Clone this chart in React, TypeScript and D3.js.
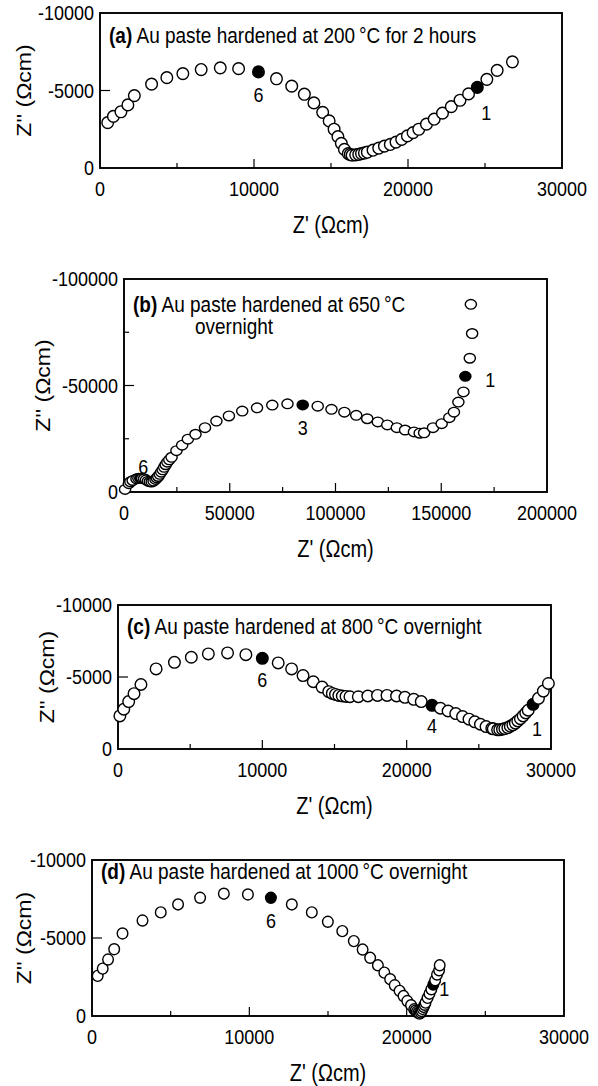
import React from "react";
import * as d3 from "d3";

const W = 598;
const H = 1086;
const FONT = "'Liberation Sans', Arial, Helvetica, sans-serif";
const STRETCH = 1.15; // the scanned figure's text is a bit taller than wide

// Nyquist data, [Z', Z''] in Ωcm (Z'' negative, plotted upwards)

// (a) 200 °C for 2 hours
const zA: [number, number][] = [
  [500, -2930], [870, -3330], [1360, -3630], [1810, -4070], [2230, -4670],
  [3350, -5410], [4340, -5830], [5380, -6090], [6570, -6350], [7810, -6460],
  [9000, -6410], [10290, -6200], [11460, -5760], [12450, -5280], [13270, -4760],
  [13890, -4200], [14460, -3590], [14880, -3040], [15200, -2500], [15450, -2020],
  [15670, -1590], [15870, -1200], [16120, -930], [16250, -870], [16370, -830],
  [16600, -850], [16800, -880], [16980, -930], [17170, -970], [17360, -1020],
  [17730, -1150], [18100, -1280], [18470, -1410], [18850, -1520], [19220, -1670],
  [19590, -1850], [19960, -2070], [20330, -2280], [20700, -2500], [21200, -2830],
  [21700, -3150], [22240, -3540], [22810, -3960], [23380, -4370], [23930, -4780],
  [24500, -5200], [25120, -5720], [25790, -6300], [26780, -6850],
];
const markA = [
  { z: [10290, -6200], label: "6" },
  { z: [24500, -5200], label: "1" },
];

// (b) 650 °C overnight
const zB: [number, number][] = [
  [500, -1200], [2300, -3900], [3000, -4800], [4100, -5400], [5900, -6200],
  [6800, -6400], [7700, -6500], [8600, -6400], [9500, -6200], [10400, -5700],
  [11300, -5100], [12200, -4800], [13100, -4700], [14000, -5100], [14900, -5900],
  [15500, -6600], [16200, -7300], [16900, -8300], [17600, -9300], [18300, -10400],
  [19000, -11600], [19700, -12800], [20500, -14000], [21400, -15100], [22500, -16300],
  [24800, -19400], [27500, -22000], [30200, -24800], [33800, -27100], [38300, -30200],
  [43700, -33300], [49600, -35700], [55900, -38000], [62900, -39500], [70100, -40800],
  [77300, -41400], [84500, -40900], [91600, -40300], [98100, -38800], [104200, -37500],
  [109800, -36000], [115000, -34400], [120000, -32900], [124500, -31500], [129000, -30200],
  [132900, -29100], [137100, -28200], [139800, -27600], [141900, -27800], [146100, -30200],
  [150200, -32100], [153800, -34900], [156000, -37500], [158100, -42200], [160500, -47000],
  [161400, -54300], [163500, -62800], [164600, -74400], [164000, -88100],
];
const markB = [
  { z: [7700, -6500], label: "6" },
  { z: [84500, -40900], label: "3" },
  { z: [161400, -54300], label: "1" },
];

// (c) 800 °C overnight
const zC: [number, number][] = [
  [130, -2300], [400, -2760], [740, -3290], [1110, -3840], [1590, -4480],
  [2640, -5560], [3910, -6020], [5080, -6370], [6260, -6600], [7590, -6670],
  [8860, -6550], [10000, -6300], [11100, -5980], [12030, -5560], [12820, -5100],
  [13530, -4670], [14140, -4300], [14600, -3980], [14850, -3860], [15070, -3790],
  [15300, -3720], [15540, -3680], [15800, -3650], [16070, -3630], [16650, -3630],
  [17310, -3680], [17980, -3720], [18640, -3720], [19300, -3680], [19880, -3590],
  [20490, -3450], [21010, -3290], [21760, -3030], [22340, -2830], [22870, -2640],
  [23400, -2460], [23870, -2250], [24320, -2070], [24720, -1890], [25110, -1720],
  [25500, -1560], [25900, -1430], [26000, -1400], [26300, -1330], [26450, -1340],
  [26640, -1380], [26800, -1420], [27010, -1490], [27180, -1580], [27360, -1680],
  [27530, -1800], [27700, -1950], [27880, -2100], [28070, -2300], [28250, -2500],
  [28420, -2690], [28760, -3100], [29130, -3520], [29470, -4020], [29820, -4550],
];
const markC = [
  { z: [10000, -6300], label: "6" },
  { z: [21760, -3030], label: "4" },
  { z: [28760, -3100], label: "1" },
];

// (d) 1000 °C overnight
const zD: [number, number][] = [
  [360, -2570], [680, -3040], [1020, -3620], [1410, -4280], [1940, -5290],
  [3210, -6120], [4370, -6640], [5470, -7150], [6870, -7580], [8380, -7840],
  [9910, -7790], [11370, -7580], [12700, -7150], [13970, -6640], [14990, -6040],
  [15910, -5440], [16640, -4800], [17200, -4260], [17680, -3730], [18170, -3250],
  [18580, -2780], [18950, -2360], [19240, -1970], [19550, -1610], [19800, -1280],
  [20040, -960], [20280, -690], [20480, -430], [20560, -340], [20650, -260],
  [20740, -200], [20820, -150], [20900, -220], [20960, -320], [21020, -450],
  [21080, -580], [21140, -720], [21200, -860], [21330, -1160], [21450, -1430],
  [21570, -1710], [21690, -2010], [21810, -2290], [21930, -2660], [22060, -2930],
  [22100, -3250],
];
const markD = [
  { z: [11370, -7580], label: "6" },
  { z: [21690, -2010], label: "1" },
];

// axis ticks
const xTicks30k = [0, 10000, 20000, 30000];
const xMinor30k = [5000, 15000, 25000];
const xTicks200k = [0, 50000, 100000, 150000, 200000];
const xMinor200k = [25000, 75000, 125000, 175000];
const yTicks10k = [0, -5000, -10000];
const yTicks100k = [0, -50000, -100000];
const yMinor100k = [-25000, -75000];

const PANELS = [
  {
    points: zA, marks: markA, xTicks: xTicks30k, xMinor: xMinor30k, yTicks: yTicks10k, yMinor: [] as number[],
    tag: "(a)", title: ["Au paste hardened at 200\u2009°C for 2 hours"],
  },
  {
    points: zB, marks: markB, xTicks: xTicks200k, xMinor: xMinor200k, yTicks: yTicks100k, yMinor: yMinor100k,
    tag: "(b)", title: ["Au paste hardened at 650\u2009°C", "overnight"],
  },
  {
    points: zC, marks: markC, xTicks: xTicks30k, xMinor: xMinor30k, yTicks: yTicks10k, yMinor: [] as number[],
    tag: "(c)", title: ["Au paste hardened at 800\u2009°C overnight"],
  },
  {
    points: zD, marks: markD, xTicks: xTicks30k, xMinor: xMinor30k, yTicks: yTicks10k, yMinor: [] as number[],
    tag: "(d)", title: ["Au paste hardened at 1000\u2009°C overnight"],
  },
];

// pixel layout of each panel
const LAYOUT = [
  { left: 100, right: 562, top: 13, bottom: 168, rx: 5.8, ry: 5.9, yTitleX: 24, titleY: [43], line2X: 0,
    labelOff: [[0, 23], [9, 25]] },
  { left: 124, right: 547, top: 279, bottom: 492, rx: 5.6, ry: 4.8, yTitleX: 43, titleY: [312, 334], line2X: 195,
    labelOff: [[3, -12], [0, 23], [25, 3]] },
  { left: 118, right: 551, top: 605, bottom: 749, rx: 5.8, ry: 5.8, yTitleX: 47, titleY: [634], line2X: 0,
    labelOff: [[0, 21], [0, 20], [4, 24]] },
  { left: 92, right: 564, top: 860, bottom: 1016, rx: 5.3, ry: 5.5, yTitleX: 24, titleY: [879], line2X: 0,
    labelOff: [[0, 23], [11, 4]] },
];

// text drawn slightly taller than wide, like the scan
function T({ x, y, rotate = 0, children, ...rest }: any) {
  const s = rotate ? `scale(${STRETCH},1)` : `scale(1,${STRETCH})`;
  return (
    <text transform={`translate(${x},${y}) rotate(${rotate}) ${s}`} {...rest}>
      {children}
    </text>
  );
}

function Panel({ p, l }: { p: (typeof PANELS)[number]; l: (typeof LAYOUT)[number] }) {
  const xMax = p.xTicks[p.xTicks.length - 1];
  const yMin = p.yTicks[p.yTicks.length - 1];
  const x = d3.scaleLinear().domain([0, xMax]).range([l.left, l.right]);
  const y = d3.scaleLinear().domain([0, yMin]).range([l.bottom, l.top]);
  const isMark = (d: [number, number]) => p.marks.some(m => m.z[0] === d[0] && m.z[1] === d[1]);
  const cx = (l.left + l.right) / 2;
  const cy = (l.top + l.bottom) / 2;

  return (
    <g>
      {p.xTicks.slice(1, -1).map(t => (
        <line key={"xt" + t} x1={x(t)} x2={x(t)} y1={l.bottom} y2={l.bottom - 9} stroke="#000" strokeWidth={1.2} />
      ))}
      {p.xMinor.map(t => (
        <line key={"xm" + t} x1={x(t)} x2={x(t)} y1={l.bottom} y2={l.bottom - 5} stroke="#000" strokeWidth={1.2} />
      ))}
      {p.yTicks.slice(1, -1).map(t => (
        <line key={"yt" + t} x1={l.left} x2={l.left + 10} y1={y(t)} y2={y(t)} stroke="#000" strokeWidth={1.2} />
      ))}
      {p.yMinor.map(t => (
        <line key={"ym" + t} x1={l.left} x2={l.left + 5} y1={y(t)} y2={y(t)} stroke="#000" strokeWidth={1.2} />
      ))}
      <rect x={l.left} y={l.top} width={l.right - l.left} height={l.bottom - l.top} fill="none" stroke="#000" strokeWidth={1.9} />

      {p.points.map((d, i) => (
        <ellipse key={i} cx={x(d[0])} cy={y(d[1])} rx={l.rx} ry={l.ry}
          fill={isMark(d) ? "#000" : "#fff"} stroke="#000" strokeWidth={1.4} />
      ))}
      {p.marks.map((m, i) => (
        <T key={"lb" + i} x={x(m.z[0]) + l.labelOff[i][0]} y={y(m.z[1]) + l.labelOff[i][1]}
          fontSize={18} textAnchor="middle" dominantBaseline="central">{m.label}</T>
      ))}

      {p.xTicks.map(t => (
        <T key={"xl" + t} x={x(t)} y={l.bottom + 21} fontSize={18} textAnchor="middle" dominantBaseline="central">{t}</T>
      ))}
      {p.yTicks.map(t => (
        <T key={"yl" + t} x={l.left - 6} y={y(t)} fontSize={18} textAnchor="end" dominantBaseline="central">{t}</T>
      ))}

      <T x={l.left + 9} y={l.titleY[0]} fontSize={19}>
        <tspan fontWeight="bold">{p.tag}</tspan> {p.title[0]}
      </T>
      {p.title.length > 1 && (
        <T x={l.line2X} y={l.titleY[1]} fontSize={19}>{p.title[1]}</T>
      )}

      <T x={cx} y={l.bottom + 57} fontSize={20} textAnchor="middle" dominantBaseline="central">Z' (Ωcm)</T>
      <T x={l.yTitleX} y={cy} rotate={-90} fontSize={20} textAnchor="middle" dominantBaseline="central">
        Z'' (Ωcm)
      </T>
    </g>
  );
}

export default function App() {
  return (
    <svg width={W} height={H} fontFamily={FONT}
      style={{ position: "absolute", left: 0, top: 0, background: "#fff" }}>
      <rect width={W} height={H} fill="#fff" />
      {PANELS.map((p, i) => (
        <Panel key={i} p={p} l={LAYOUT[i]} />
      ))}
    </svg>
  );
}
